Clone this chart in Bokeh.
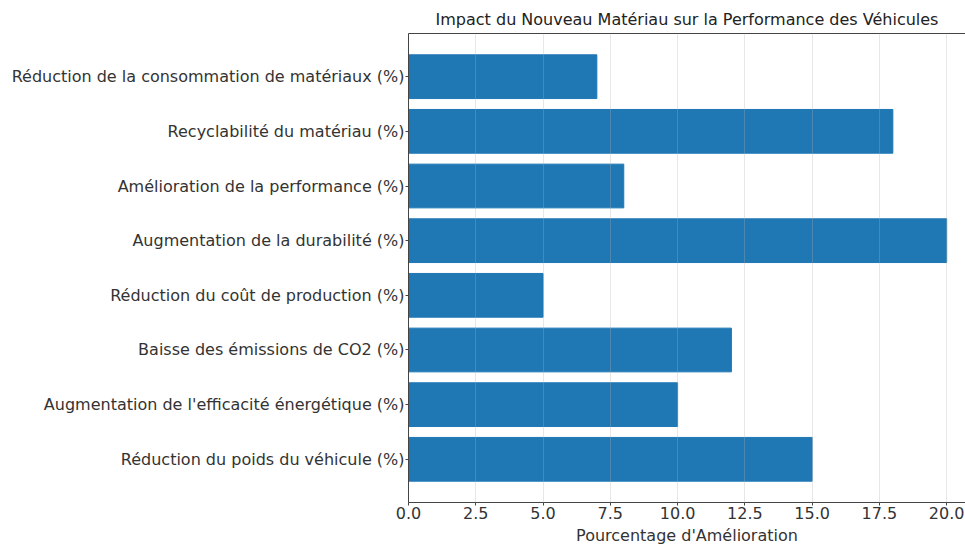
from bokeh.plotting import figure
from bokeh.models import FactorRange, Range1d, FixedTicker, ColumnDataSource, LinearAxis
from bokeh.embed import file_html
from bokeh.resources import INLINE

categories = [
    "Réduction du poids du véhicule (%)",
    "Augmentation de l'efficacité énergétique (%)",
    "Baisse des émissions de CO2 (%)",
    "Réduction du coût de production (%)",
    "Augmentation de la durabilité (%)",
    "Amélioration de la performance (%)",
    "Recyclabilité du matériau (%)",
    "Réduction de la consommation de matériaux (%)",
]
values = [15, 10, 12, 5, 20, 8, 18, 7]
x_ticks = [0, 2.5, 5, 7.5, 10, 12.5, 15, 17.5, 20]

FONT = "DejaVu Sans"
FS = "16px"
src = ColumnDataSource(dict(cat=categories, val=values))

p = figure(
    width=965, height=548,
    y_range=FactorRange(factors=categories, range_padding=0.29, range_padding_units="absolute"),
    x_range=Range1d(0, 20.7),
    output_backend="svg", toolbar_location=None,
    min_border_left=408, min_border_right=0, min_border_top=33, min_border_bottom=46,
    title="Impact du Nouveau Matériau sur la Performance des Véhicules",
)
p.hbar(y="cat", right="val", left=0, height=0.8, source=src,
       fill_color="#1f77b4", line_color="#1f77b4", line_width=1)

p.title.align = "center"
p.title.text_font = FONT
p.title.text_font_size = FS
p.title.text_font_style = "normal"
p.title.text_color = "#222222"
p.title.offset = 4

p.xaxis.ticker = FixedTicker(ticks=x_ticks)
p.xaxis.major_label_overrides = {t: f"{t:.1f}" for t in x_ticks}
p.xaxis.axis_label = "Pourcentage d'Amélioration"
for ax in (p.xaxis[0], p.yaxis[0]):
    ax.major_label_text_font = FONT
    ax.major_label_text_font_size = FS
    ax.major_label_text_color = "#333333"
    ax.axis_line_color = "#444444"
    ax.major_tick_line_color = "#444444"
    ax.major_tick_out = 3
    ax.major_tick_in = 0
    ax.minor_tick_line_color = None
    ax.major_label_standoff = 1
p.xaxis.axis_label_text_font = FONT
p.xaxis.axis_label_text_font_size = FS
p.xaxis.axis_label_text_font_style = "normal"
p.xaxis.axis_label_text_color = "#333333"
p.xaxis.axis_label_standoff = 4

top = LinearAxis(ticker=FixedTicker(ticks=[]), axis_line_color="#444444",
                 major_tick_line_color=None, minor_tick_line_color=None,
                 major_label_text_font_size="0px")
p.add_layout(top, "above")

p.ygrid.grid_line_color = None
p.xgrid.grid_line_color = "#b0b0b0"
p.xgrid.grid_line_alpha = 0.3
p.xgrid.level = "annotation"
p.outline_line_color = None

open("out.html", "w").write(file_html(p, INLINE))
